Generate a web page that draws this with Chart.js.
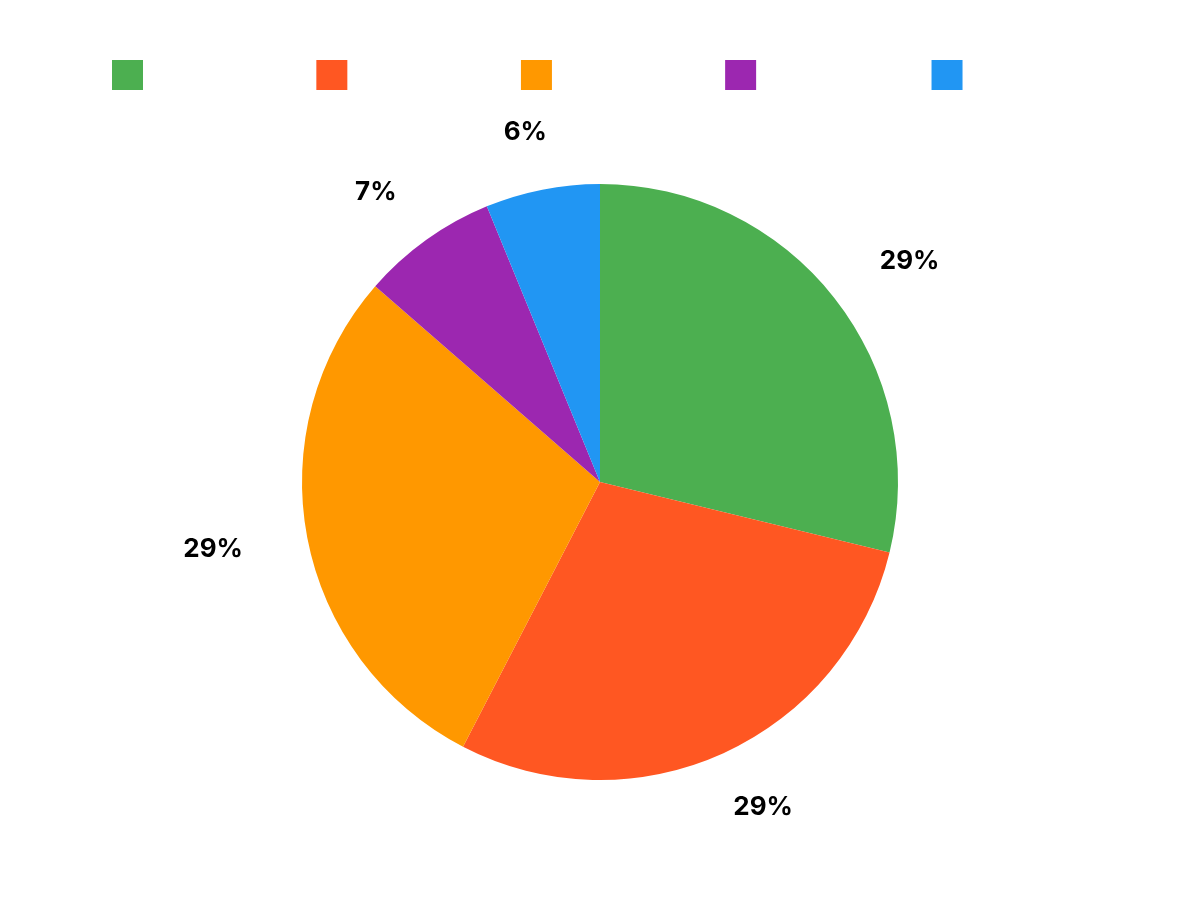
<!DOCTYPE html>
<html>
<head>
<meta charset="utf-8">
<script src="https://cdn.jsdelivr.net/npm/chart.js@4"></script>
<style>
  html, body { margin: 0; padding: 0; background: #fff; }
  #wrap { width: 1200px; height: 900px; }
</style>
</head>
<body>
<div id="wrap"><canvas id="pie-chart"></canvas></div>
<script>
const categories = ["Category A", "Category B", "Category C", "Category D", "Category E"];
const shares = [28.8, 28.8, 28.8, 7.4, 6.2];
const colors = ["#4CAF50", "#FF5722", "#FF9800", "#9C27B0", "#2196F3"];

// percent labels just outside each slice
const outsideLabels = {
  id: 'outsideLabels',
  afterDatasetsDraw(chart) {
    const ctx = chart.ctx;
    const meta = chart.getDatasetMeta(0);
    const total = shares.reduce((a, b) => a + b, 0);
    ctx.save();
    ctx.font = 'bold 26px Inter';
    ctx.fillStyle = '#000';
    ctx.textAlign = 'center';
    ctx.textBaseline = 'middle';
    meta.data.forEach((arc, i) => {
      const mid = (arc.startAngle + arc.endAngle) / 2;
      const dx = Math.cos(mid), dy = Math.sin(mid);
      const txt = Math.round(shares[i] / total * 100) + '%';
      const w = ctx.measureText(txt).width;
      const r = arc.outerRadius;
      const x = arc.x + dx * (r + 66 + w / 2);
      const y = arc.y + dy * (r + 46 + 13);
      ctx.fillText(txt, x, y);
    });
    ctx.restore();
  }
};

new Chart(document.getElementById("pie-chart"), {
  type: 'pie',
  data: {
    labels: categories,
    datasets: [{
      data: shares,
      backgroundColor: colors,
      borderWidth: 0,
      radius: 298
    }]
  },
  options: {
    responsive: true,
    maintainAspectRatio: false,
    animation: false,
    layout: { padding: { top: 14, bottom: 36 } },
    plugins: {
      tooltip: { enabled: false },
      legend: {
        position: 'top',
        labels: {
          boxWidth: 31,
          boxHeight: 30,
          padding: 46,
          color: '#ffffff',
          font: { family: 'Noto Sans', size: 22.5 }
        }
      }
    }
  },
  plugins: [outsideLabels]
});
</script>
</body>
</html>
